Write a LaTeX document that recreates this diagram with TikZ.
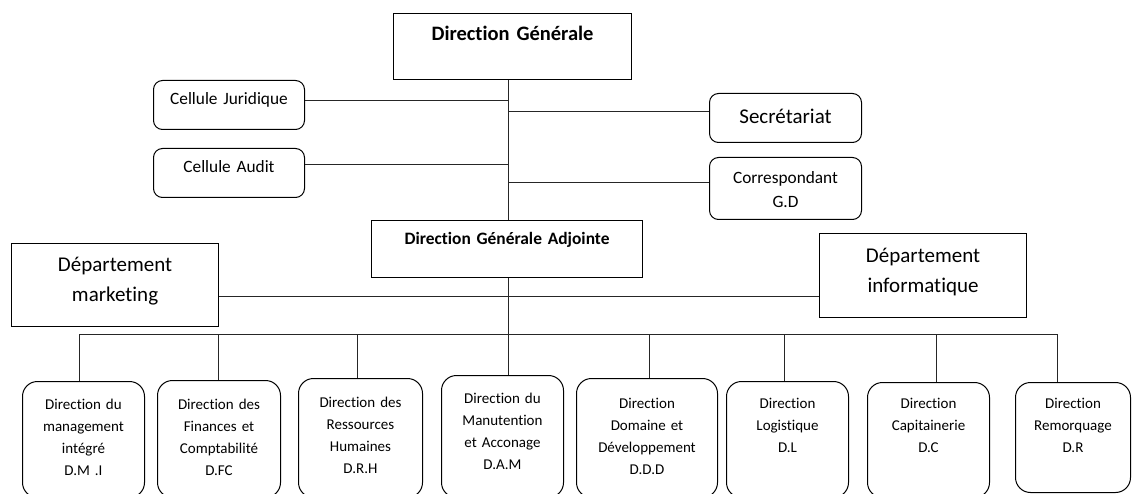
\documentclass[tikz,border=0pt]{standalone}
\usepackage{fontspec}
\setmainfont{Carlito}[Ligatures={NoCommon,NoContextual}]
\begin{document}
\begin{tikzpicture}[x=1pt,y=-1pt]
  \tikzset{
    every node/.style={
      draw,
      anchor=north west,
      inner sep=0pt,
      align=center
    },
    box/.style={
      line width=1.1pt
    },
    cell/.style={
      line width=1pt,
      rounded corners=9pt,
      font=\fontsize{17.3}{24}\selectfont
    },
    unit/.style={
      line width=1pt,
      rounded corners=15pt,
      font=\fontsize{15}{22}\selectfont
    },
    line/.style={
      draw,
      line width=1pt,
      black!85
    }
  }
  \useasboundingbox (0,0) rectangle (1132,494);

  \node[box, text width=238pt, text height=26.5pt, text depth=39.5pt, font=\fontsize{20.5}{24}\selectfont\bfseries] (dg) at (393,13) {Direction Générale};
  \node[cell, text width=151pt, text height=24.5pt, text depth=24.5pt] (cj) at (153,80) {Cellule Juridique};
  \node[cell, text width=151pt, text height=24.5pt, text depth=24.5pt] (audit) at (153,148) {Cellule Audit};
  \node[cell, text width=152pt, text height=29.8pt, text depth=19.2pt, font=\fontsize{21}{26}\selectfont] (secr) at (709,93) {Secrétariat};
  \node[cell, text width=152pt, text height=25.6pt, text depth=36.4pt] (corr) at (709,157) {Correspondant\\G.D};
  \node[box, text width=271pt, text height=23.6pt, text depth=33.4pt, font=\fontsize{17.4}{22}\selectfont\bfseries] (dga) at (371,220) {Direction Générale Adjointe};
  \node[box, text width=207pt, text height=27.8pt, text depth=55.2pt, font=\fontsize{21}{30}\selectfont] (mkt) at (11,243) {Département\\marketing};
  \node[box, text width=207pt, text height=28.8pt, text depth=55.2pt, font=\fontsize{21}{30}\selectfont] (info) at (819,233) {Département\\informatique};

  \node[unit, text width=122pt, text height=27.8pt, text depth=88.2pt] (dmi) at (22,381) {Direction du\\management\\intégré\\D.M .I};
  \node[unit, text width=123pt, text height=28.8pt, text depth=88.2pt] (dfc) at (157,380) {Direction des\\Finances et\\Comptabilité\\D.FC};
  \node[unit, text width=124pt, text height=28.8pt, text depth=90.2pt] (drh) at (298,378) {Direction des\\Ressources\\Humaines\\D.R.H};
  \node[unit, text width=122pt, text height=27.8pt, text depth=94.2pt] (dam) at (441,375) {Direction du\\Manutention\\et Acconage\\D.A.M};
  \node[unit, text width=141pt, text height=29.8pt, text depth=89.2pt] (ddd) at (576,378) {Direction\\Domaine et\\Développement\\D.D.D};
  \node[unit, text width=122pt, text height=26.8pt, text depth=89.2pt] (dl) at (726,381) {Direction\\Logistique\\D.L};
  \node[unit, text width=122pt, text height=25.8pt, text depth=89.2pt] (dc) at (867,382) {Direction\\Capitainerie\\D.C};
  \node[unit, text width=115pt, text height=25.8pt, text depth=84.2pt] (dr) at (1015,382) {Direction\\Remorquage\\D.R};

  % branch points on the trunk
  \coordinate (trunk) at (508,334);
  \coordinate (jur) at (508,101);
  \coordinate (sec) at (508,112);
  \coordinate (aud) at (508,165);
  \coordinate (cor) at (508,183);
  \coordinate (dep) at (508,296);

  \path[line]
  (dg.south -| trunk) -- (dga.north -| trunk)
  (dga.south -| trunk) -- (dam.north -| trunk)
  (jur) -- (jur -| cj.east)
  (aud) -- (aud -| audit.east)
  (sec) -- (sec -| secr.west)
  (cor) -- (cor -| corr.west)
  (dep -| mkt.east) -- (dep -| info.west);

  \foreach \n/\x in {dmi/79, dfc/218, drh/357, ddd/649, dl/784, dc/936, dr/1057} {
    \coordinate (drop-\n) at (\x,334);
    \draw[line] (drop-\n) -- (drop-\n |- \n.north);
  }
  \draw[line] (drop-dmi) -- (drop-dr);

\end{tikzpicture}
\end{document}
